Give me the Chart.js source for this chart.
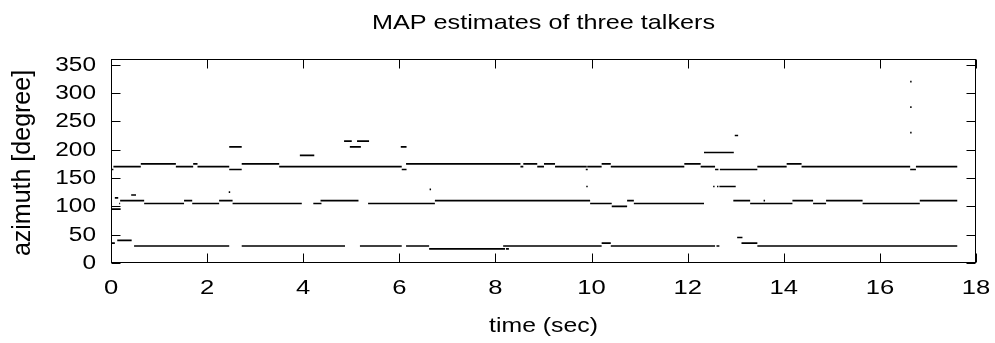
<!DOCTYPE html>
<html>
<head>
<meta charset="utf-8">
<title>MAP estimates of three talkers</title>
<script src="https://cdn.jsdelivr.net/npm/chart.js"></script>
<style>
    html, body { margin: 0; padding: 0; background: #fff; }
    canvas { display: block; }
</style>
</head>
<body>
<canvas id="mapChart" width="995" height="343"></canvas>
<script>
// tick labels
const timeTicks = [0, 2, 4, 6, 8, 10, 12, 14, 16, 18];
const azimuthTicks = [0, 50, 100, 150, 200, 250, 300, 350];

// segments: [start sec, end sec, azimuth deg]
const talker1 = [
    [0.00, 0.05, 165], [0.05, 0.62, 170], [0.62, 1.35, 175], [1.35, 1.71, 170],
    [1.71, 1.80, 175], [1.80, 2.46, 170], [2.46, 2.72, 165], [2.46, 2.72, 205],
    [2.72, 3.50, 175], [3.50, 6.05, 170], [3.93, 4.23, 190], [4.85, 5.01, 215],
    [4.97, 5.20, 205], [5.12, 5.37, 215], [6.03, 6.15, 205], [6.05, 6.15, 165],
    [6.14, 8.52, 175], [8.52, 8.58, 170], [8.58, 8.87, 175], [8.87, 9.01, 170],
    [9.01, 9.24, 175], [9.24, 9.90, 170], [9.88, 9.92, 165], [9.91, 10.21, 170],
    [10.21, 10.40, 175], [10.40, 11.93, 170], [11.93, 12.27, 175], [12.27, 12.57, 170],
    [12.34, 12.96, 195], [12.57, 12.64, 165], [12.98, 13.05, 225], [12.67, 13.45, 165],
    [13.45, 14.06, 170], [14.06, 14.37, 175], [14.37, 16.63, 170], [16.63, 16.75, 165],
    [16.75, 17.61, 170], [16.63, 16.66, 230], [16.63, 16.66, 275], [16.63, 16.66, 320]
];
const talker2 = [
    [0.00, 0.20, 95], [0.08, 0.15, 115], [0.17, 0.19, 105], [0.19, 0.69, 110],
    [0.42, 0.52, 120], [0.69, 1.52, 105], [1.52, 1.69, 110], [1.69, 2.25, 105],
    [2.25, 2.53, 110], [2.45, 2.48, 125], [2.53, 3.97, 105], [4.21, 4.38, 105],
    [4.36, 5.15, 110], [5.35, 6.74, 105], [6.63, 6.66, 130], [6.74, 9.97, 110],
    [9.89, 9.92, 135], [9.97, 10.42, 105], [10.42, 10.74, 100], [10.74, 10.88, 110],
    [10.88, 12.34, 105], [12.53, 12.56, 135], [12.61, 12.64, 135], [12.66, 13.00, 135],
    [12.95, 13.30, 110], [13.30, 14.18, 105], [13.58, 13.61, 110], [14.18, 14.61, 110],
    [14.61, 14.88, 105], [14.88, 15.64, 110], [15.64, 16.83, 105], [16.83, 17.61, 110]
];
const talker3 = [
    [0.00, 0.08, 35], [0.13, 0.43, 40], [0.48, 2.46, 30], [2.72, 4.87, 30],
    [5.18, 6.05, 30], [6.14, 6.62, 30], [6.62, 8.20, 25], [8.22, 8.28, 25],
    [8.16, 10.21, 30], [10.21, 10.40, 35], [10.40, 12.57, 30], [12.60, 12.66, 30],
    [13.03, 13.14, 45], [13.12, 13.45, 35], [13.45, 17.61, 30]
];

// each segment becomes two points plus a break
function toPoints(segs) {
    const pts = [];
    segs.forEach(function (s) {
        pts.push({ x: s[0], y: s[2] }, { x: s[1], y: s[2] }, { x: s[1], y: null });
    });
    return pts;
}

const FONT = "'Liberation Sans', Arial, Helvetica, sans-serif";

// horizontal text in the reference is wide, so stretch it a bit
function stretchedText(ctx, text, x, y, align, size, sx) {
    ctx.save();
    ctx.font = size + "px " + FONT;
    ctx.translate(x, y);
    ctx.scale(sx, 1);
    ctx.textAlign = align;
    ctx.textBaseline = "alphabetic";
    ctx.fillText(text, 0, 0);
    ctx.restore();
}

// gnuplot style frame: border, inward mirrored ticks, labels
const gnuplotFrame = {
    id: "gnuplotFrame",
    beforeDraw(chart) {
        const ctx = chart.ctx;
        ctx.save();
        ctx.fillStyle = "#fff";
        ctx.fillRect(0, 0, chart.width, chart.height);
        ctx.restore();
    },
    afterDraw(chart) {
        const ctx = chart.ctx;
        const a = chart.chartArea;
        const xs = chart.scales.x;
        const ys = chart.scales.y;
        const L = Math.round(a.left) + 0.5, R = Math.round(a.right) - 0.5;
        const T = Math.round(a.top) + 0.5, B = Math.round(a.bottom) - 0.5;
        const tick = 9;

        ctx.save();
        ctx.strokeStyle = "#000";
        ctx.lineWidth = 1;
        ctx.strokeRect(L, T, R - L, B - T);

        ctx.beginPath();
        timeTicks.forEach(function (t) {
            const px = Math.round(xs.getPixelForValue(t)) + 0.5;
            ctx.moveTo(px, B); ctx.lineTo(px, B - tick);
            ctx.moveTo(px, T); ctx.lineTo(px, T + tick);
        });
        azimuthTicks.forEach(function (v) {
            const py = Math.round(ys.getPixelForValue(v)) + 0.5;
            ctx.moveTo(L, py); ctx.lineTo(L + tick, py);
            ctx.moveTo(R, py); ctx.lineTo(R - tick, py);
        });
        ctx.stroke();

        ctx.fillStyle = "#000";
        timeTicks.forEach(function (t) {
            stretchedText(ctx, String(t), xs.getPixelForValue(t), 293.5, "center", 20, 1.28);
        });
        azimuthTicks.forEach(function (v) {
            stretchedText(ctx, String(v), 96, ys.getPixelForValue(v) + 6, "right", 20, 1.22);
        });

        const midX = (a.left + a.right) / 2;
        stretchedText(ctx, "MAP estimates of three talkers", midX, 28.5, "center", 21, 1.2);
        stretchedText(ctx, "time (sec)", midX, 332, "center", 21, 1.18);

        // y axis title, rotated
        ctx.save();
        ctx.font = "25px " + FONT;
        ctx.translate(30, 163);
        ctx.rotate(-Math.PI / 2);
        ctx.textAlign = "center";
        ctx.textBaseline = "alphabetic";
        ctx.fillText("azimuth [degree]", 0, 0);
        ctx.restore();

        ctx.restore();
    }
};

const lineStyle = {
    showLine: true,
    borderColor: "#000",
    backgroundColor: "#000",
    borderWidth: 1.7,
    borderCapStyle: "butt",
    pointRadius: 0,
    spanGaps: false
};

new Chart(document.getElementById("mapChart"), {
    type: "scatter",
    data: {
        datasets: [
            Object.assign({ label: "talker 1", data: toPoints(talker1) }, lineStyle),
            Object.assign({ label: "talker 2", data: toPoints(talker2) }, lineStyle),
            Object.assign({ label: "talker 3", data: toPoints(talker3) }, lineStyle)
        ]
    },
    options: {
        responsive: false,
        animation: false,
        devicePixelRatio: 1,
        layout: { padding: { left: 111, right: 19, top: 59, bottom: 80 } },
        plugins: { legend: { display: false }, tooltip: { enabled: false } },
        scales: {
            x: { type: "linear", min: 0, max: 18, display: false },
            y: { type: "linear", min: 0, max: 360, display: false }
        }
    },
    plugins: [gnuplotFrame]
});
</script>
</body>
</html>
